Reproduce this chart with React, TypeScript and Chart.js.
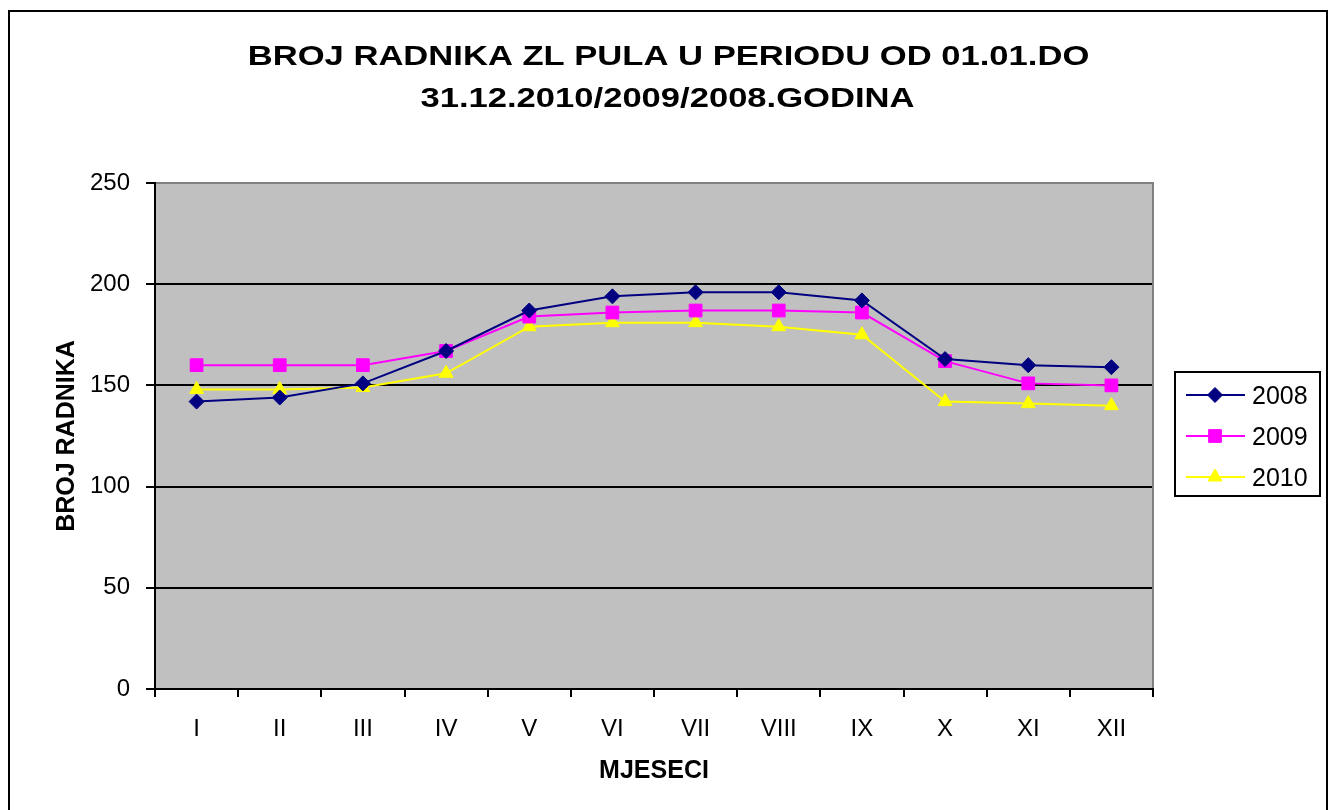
import React, { useEffect, useRef } from 'react';
import { Chart, registerables } from 'chart.js';
import { drawPoint } from 'chart.js/helpers';

Chart.register(...registerables);

const months = ['I', 'II', 'III', 'IV', 'V', 'VI', 'VII', 'VIII', 'IX', 'X', 'XI', 'XII'];
const seriesNames = ['2008', '2009', '2010'];
const values2008 = [142, 144, 151, 167, 187, 194, 196, 196, 192, 163, 160, 159];
const values2009 = [160, 160, 160, 167, 184, 186, 187, 187, 186, 162, 151, 150];
const values2010 = [148, 148, 149, 156, 179, 181, 181, 179, 175, 142, 141, 140];
const yMin = 0;
const yMax = 250;
const yStep = 50;
const titleLines = ['BROJ RADNIKA ZL PULA U PERIODU OD 01.01.DO', '31.12.2010/2009/2008.GODINA'];
const yAxisTitle = 'BROJ RADNIKA';
const xAxisTitle = 'MJESECI';

const FONT = '"Liberation Sans", Arial, Helvetica, sans-serif';
const seriesColors = ['#000080', '#FF00FF', '#FFFF00'];
const seriesPointStyles = ['rectRot', 'rect', 'triangle'];
const seriesPointRadius = [7.5, 9, 8];

const framePlugin = {
  id: 'frame',
  beforeDraw(chart: any) {
    const { ctx, chartArea } = chart;
    ctx.save();
    ctx.fillStyle = '#ffffff';
    ctx.fillRect(0, 0, chart.width, chart.height);
    ctx.strokeStyle = '#000000';
    ctx.lineWidth = 2;
    ctx.strokeRect(9, 11, 1318, 820);
    ctx.fillStyle = '#C0C0C0';
    ctx.fillRect(chartArea.left, chartArea.top, chartArea.right - chartArea.left, chartArea.bottom - chartArea.top);
    ctx.restore();
  },
  beforeDatasetsDraw(chart: any) {
    const { ctx, chartArea } = chart;
    ctx.save();
    ctx.strokeStyle = '#808080';
    ctx.lineWidth = 2;
    ctx.beginPath();
    ctx.moveTo(chartArea.left + 1, chartArea.top);
    ctx.lineTo(chartArea.right, chartArea.top);
    ctx.lineTo(chartArea.right, chartArea.bottom - 1);
    ctx.stroke();
    ctx.restore();
  },
  afterDraw(chart: any) {
    const { ctx } = chart;
    ctx.save();
    // Title (horizontally stretched bold text, as in the original)
    ctx.fillStyle = '#000000';
    ctx.font = `bold 28px ${FONT}`;
    ctx.textAlign = 'center';
    ctx.textBaseline = 'alphabetic';
    const stretch = 1.235;
    const titleCenters = [668.5, 667.5];
    const titleBaselines = [65, 107];
    titleLines.forEach((line, i) => {
      ctx.save();
      ctx.translate(titleCenters[i], titleBaselines[i]);
      ctx.scale(stretch, 1);
      ctx.fillText(line, 0, 0);
      ctx.restore();
    });
    // Legend
    const boxL = 1175, boxT = 372, boxW = 145, boxH = 124;
    ctx.fillStyle = '#ffffff';
    ctx.fillRect(boxL, boxT, boxW, boxH);
    ctx.strokeStyle = '#000000';
    ctx.lineWidth = 2;
    ctx.strokeRect(boxL, boxT, boxW, boxH);
    chart.data.datasets.forEach((ds: any, i: number) => {
      const cy = 395 + i * 41;
      ctx.strokeStyle = ds.borderColor;
      ctx.lineWidth = 2;
      ctx.beginPath();
      ctx.moveTo(1186, cy);
      ctx.lineTo(1245, cy);
      ctx.stroke();
      ctx.fillStyle = ds.pointBackgroundColor;
      ctx.strokeStyle = ds.pointBorderColor;
      ctx.lineWidth = 1;
      drawPoint(ctx, { pointStyle: ds.pointStyle, radius: ds.pointRadius, rotation: 0, borderWidth: 1 }, 1215, cy);
      ctx.fillStyle = '#000000';
      ctx.font = `25px ${FONT}`;
      ctx.textAlign = 'left';
      ctx.textBaseline = 'alphabetic';
      ctx.fillText(ds.label, 1252, cy + 9);
    });
    ctx.restore();
  },
};

export default function App() {
  const ref = useRef<HTMLCanvasElement>(null);
  useEffect(() => {
    const canvas = ref.current;
    if (!canvas) return;
    const seriesValues = [values2008, values2009, values2010];
    const chart = new Chart(canvas, {
      type: 'line',
      data: {
        labels: months,
        datasets: seriesNames.map((name, i) => ({
          label: name,
          data: seriesValues[i],
          borderColor: seriesColors[i],
          backgroundColor: seriesColors[i],
          pointBackgroundColor: seriesColors[i],
          pointBorderColor: seriesColors[i],
          pointStyle: seriesPointStyles[i] as any,
          pointRadius: seriesPointRadius[i],
          pointBorderWidth: 1,
          borderWidth: 2,
          tension: 0,
          fill: false,
        })),
      },
      options: {
        responsive: false,
        animation: false,
        devicePixelRatio: 1,
        layout: { padding: { left: 0, right: 181, top: 183, bottom: 0 } },
        plugins: {
          legend: { display: false },
          title: { display: false },
          tooltip: { enabled: false },
        },
        scales: {
          x: {
            type: 'category',
            offset: true,
            grid: {
              offset: true,
              drawOnChartArea: false,
              drawTicks: true,
              tickLength: 8,
              color: '#000000',
              lineWidth: 2,
            },
            border: { display: true, color: '#000000', width: 2 },
            ticks: {
              font: { family: FONT, size: 24 },
              color: '#000000',
              padding: 18,
              maxRotation: 0,
              minRotation: 0,
              autoSkip: false,
            },
            title: {
              display: true,
              text: xAxisTitle,
              color: '#000000',
              font: { family: FONT, size: 25, weight: 'bold' },
              padding: { top: 0, bottom: 24 },
            },
            afterFit: (scale: any) => {
              scale.height = 121;
            },
          },
          y: {
            min: yMin,
            max: yMax,
            grid: {
              color: '#000000',
              lineWidth: 2,
              drawTicks: true,
              tickLength: 9,
            },
            border: { display: true, color: '#000000', width: 2 },
            ticks: {
              stepSize: yStep,
              font: { family: FONT, size: 24 },
              color: '#000000',
              padding: 16,
            },
            title: {
              display: true,
              text: yAxisTitle,
              color: '#000000',
              font: { family: FONT, size: 25, weight: 'bold' },
              padding: { top: 52, bottom: 0 },
            },
            afterFit: (scale: any) => {
              scale.width = 155;
            },
          },
        },
      },
      plugins: [framePlugin],
    } as any);
    return () => chart.destroy();
  }, []);
  return (
    <div style={{ position: 'absolute', left: 0, top: 0, width: 1334, height: 810, background: '#ffffff' }}>
      <canvas ref={ref} width={1334} height={810} style={{ display: 'block', width: 1334, height: 810 }} />
    </div>
  );
}
